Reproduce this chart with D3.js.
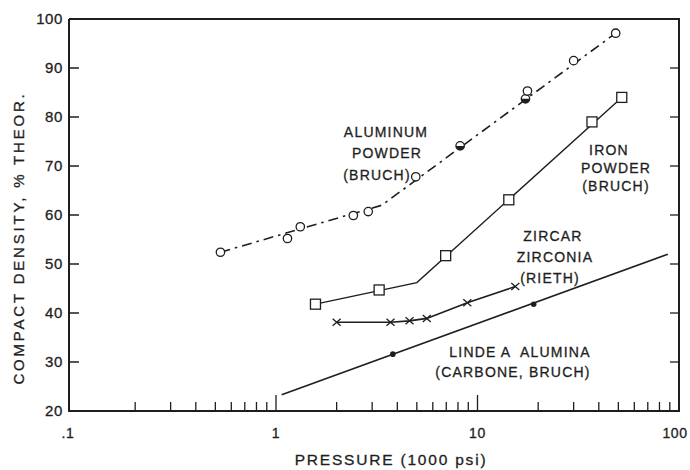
<!DOCTYPE html>
<html>
<head>
<meta charset="utf-8">
<script src="https://cdn.jsdelivr.net/npm/d3@7"></script>
<style>
  html, body { margin: 0; padding: 0; background: #ffffff; }
  svg { display: block; }
  text { font-family: "Liberation Sans", Arial, sans-serif; fill: #1e1e1e; stroke: #1e1e1e; stroke-width: 0.3; }
</style>
</head>
<body>
<svg id="chart" width="690" height="470"></svg>
<script>
// Aluminum powder (Bruch): measured points and the drawn dash-dot curve
const aluminumPressure   = [0.53, 1.14, 1.32, 2.42, 2.87, 4.94, 8.2, 17.3, 17.7, 30, 48.5];
const aluminumDensity    = [52.4, 55.2, 57.6, 59.9, 60.7, 67.8, 74.1, 83.7, 85.3, 91.5, 97.1];
const aluminumHalfFilled = [false, false, false, false, false, false, true, true, false, false, false];
const aluminumCurvePressure = [0.53, 3.35, 48.5];
const aluminumCurveDensity  = [52.4, 62.0, 97.1];

// Iron powder (Bruch)
const ironPressure = [1.57, 3.25, 6.95, 14.3, 37, 52];
const ironDensity  = [41.8, 44.7, 51.7, 63.1, 79.0, 84.0];
const ironCurvePressure = [1.57, 5.0, 52];
const ironCurveDensity  = [41.8, 46.2, 84.0];

// Zircar zirconia (Rieth)
const zircarPressure = [2.0, 3.7, 4.6, 5.6, 8.9, 15.4];
const zircarDensity  = [38.1, 38.1, 38.4, 38.9, 42.1, 45.4];

// Linde A alumina (Carbone, Bruch)
const lindePressure = [3.8, 19];
const lindeDensity  = [31.6, 41.8];
const lindeCurvePressure = [1.067, 88];
const lindeCurveDensity  = [23.3, 52.0];

// Axis ticks
const xMajorTicks  = [0.1, 1, 10, 100];
const xTickLabels  = [".1", "1", "10", "100"];
const yTicks       = [20, 30, 40, 50, 60, 70, 80, 90, 100];
const yTickLabels  = ["20", "30", "40", "50", "60", "70", "80", "90", "100"];

const zip = (xs, ys) => xs.map((x, i) => [x, ys[i]]);

const svg = d3.select("#chart");
const frame = { left: 69, top: 19, right: 679, bottom: 411 };

const x = d3.scaleLog().domain([0.1, 100]).range([74.5, 679]);
const y = d3.scaleLinear().domain([20, 100]).range([411, 19]);

const ink = "#1e1e1e";

// frame: left, bottom, top and right borders
svg.append("path")
  .attr("d", `M${frame.left},${frame.top}V${frame.bottom}H${frame.right}V${frame.top}H${frame.left}`)
  .attr("fill", "none").attr("stroke", ink).attr("stroke-width", 2);

// bottom minor and major ticks (pointing inward)
const minorX = [];
[0.1, 1, 10].forEach(d => { for (let k = 2; k <= 9; k++) minorX.push(k * d); });
svg.append("g").selectAll("line").data(minorX).join("line")
  .attr("x1", d => x(d)).attr("x2", d => x(d))
  .attr("y1", frame.bottom).attr("y2", frame.bottom - 9)
  .attr("stroke", ink).attr("stroke-width", 1.3);
svg.append("g").selectAll("line").data([1, 10]).join("line")
  .attr("x1", d => x(d)).attr("x2", d => x(d))
  .attr("y1", frame.bottom).attr("y2", frame.bottom - 16)
  .attr("stroke", ink).attr("stroke-width", 1.3);

// left and right ticks
const innerY = yTicks.filter(v => v > 20 && v < 100);
svg.append("g").selectAll("line").data(innerY).join("line")
  .attr("x1", frame.left).attr("x2", frame.left + 10)
  .attr("y1", d => y(d)).attr("y2", d => y(d))
  .attr("stroke", ink).attr("stroke-width", 1.5);
svg.append("g").selectAll("line").data(innerY).join("line")
  .attr("x1", frame.right).attr("x2", frame.right - 9)
  .attr("y1", d => y(d)).attr("y2", d => y(d))
  .attr("stroke", ink).attr("stroke-width", 1.3);

// tick labels
svg.append("g").selectAll("text").data(yTicks).join("text")
  .attr("x", 63).attr("y", d => y(d)).attr("dy", "0.36em")
  .attr("text-anchor", "end").attr("font-size", 15).attr("letter-spacing", 0.6)
  .text((d, i) => yTickLabels[i]);
svg.append("g").selectAll("text").data(xMajorTicks).join("text")
  .attr("x", (d, i) => i === 0 ? frame.left - 1 : (i === 3 ? x(d) - 4 : x(d)))
  .attr("y", 438).attr("text-anchor", "middle").attr("font-size", 14)
  .attr("letter-spacing", 0.6)
  .text((d, i) => xTickLabels[i]);

// axis titles
svg.append("text")
  .attr("x", 391).attr("y", 465).attr("text-anchor", "middle")
  .attr("font-size", 15.5).attr("letter-spacing", 1.8)
  .text("PRESSURE (1000 psi)");
svg.append("text")
  .attr("transform", "translate(24,238) rotate(-90)")
  .attr("text-anchor", "middle").attr("font-size", 15).attr("letter-spacing", 2.8)
  .text("COMPACT DENSITY, % THEOR.");

const line = d3.line().x(d => x(d[0])).y(d => y(d[1]));

// curves
svg.append("path").datum(zip(aluminumCurvePressure, aluminumCurveDensity))
  .attr("d", line).attr("fill", "none").attr("stroke", ink)
  .attr("stroke-width", 1.6).attr("stroke-dasharray", "10,5,2.5,5");
svg.append("path").datum(zip(ironCurvePressure, ironCurveDensity))
  .attr("d", line).attr("fill", "none").attr("stroke", ink).attr("stroke-width", 1.4);
svg.append("path").datum(zip(zircarPressure, zircarDensity))
  .attr("d", line).attr("fill", "none").attr("stroke", ink).attr("stroke-width", 1.6);
svg.append("path").datum(zip(lindeCurvePressure, lindeCurveDensity))
  .attr("d", line).attr("fill", "none").attr("stroke", ink).attr("stroke-width", 1.6);

// aluminum markers: open circles, some with a filled lower half
const alPts = aluminumPressure.map((p, i) => ({ p, d: aluminumDensity[i], half: aluminumHalfFilled[i] }));
const r = 4.2;
const alG = svg.append("g").selectAll("g").data(alPts).join("g")
  .attr("transform", d => `translate(${x(d.p)},${y(d.d)})`);
alG.append("circle").attr("r", r).attr("fill", "#fff").attr("stroke", ink).attr("stroke-width", 1.3);
alG.filter(d => d.half).append("path")
  .attr("d", `M${-r},0A${r},${r} 0 0 0 ${r},0Z`).attr("fill", ink);

// iron markers: open squares
svg.append("g").selectAll("rect").data(zip(ironPressure, ironDensity)).join("rect")
  .attr("x", d => x(d[0]) - 5).attr("y", d => y(d[1]) - 5)
  .attr("width", 10).attr("height", 10)
  .attr("fill", "#fff").attr("stroke", ink).attr("stroke-width", 1.3);

// zircar markers: crosses
svg.append("g").selectAll("path").data(zip(zircarPressure, zircarDensity)).join("path")
  .attr("d", d => {
    const cx = x(d[0]), cy = y(d[1]);
    return `M${cx - 4},${cy - 3.5}L${cx + 4},${cy + 3.5}M${cx - 4},${cy + 3.5}L${cx + 4},${cy - 3.5}`;
  })
  .attr("stroke", ink).attr("stroke-width", 1.3).attr("fill", "none");

// linde markers: solid dots
svg.append("g").selectAll("circle").data(zip(lindePressure, lindeDensity)).join("circle")
  .attr("cx", d => x(d[0])).attr("cy", d => y(d[1])).attr("r", 2.8).attr("fill", ink);

// curve labels
const labels = [
  { t: "ALUMINUM", x: 386, y: 137 },
  { t: "POWDER", x: 387, y: 158 },
  { t: "(BRUCH)", x: 377, y: 180 },
  { t: "IRON", x: 609, y: 155 },
  { t: "POWDER", x: 616, y: 173 },
  { t: "(BRUCH)", x: 616, y: 191 },
  { t: "ZIRCAR", x: 553, y: 241 },
  { t: "ZIRCONIA", x: 555, y: 262 },
  { t: "(RIETH)", x: 550, y: 283 },
  { t: "LINDE A  ALUMINA", x: 520, y: 357 },
  { t: "(CARBONE, BRUCH)", x: 513, y: 377 }
];
svg.append("g").selectAll("text").data(labels).join("text")
  .attr("x", d => d.x).attr("y", d => d.y)
  .attr("text-anchor", "middle").attr("font-size", 14).attr("letter-spacing", 1.2)
  .style("white-space", "pre")
  .text(d => d.t);
</script>
</body>
</html>
